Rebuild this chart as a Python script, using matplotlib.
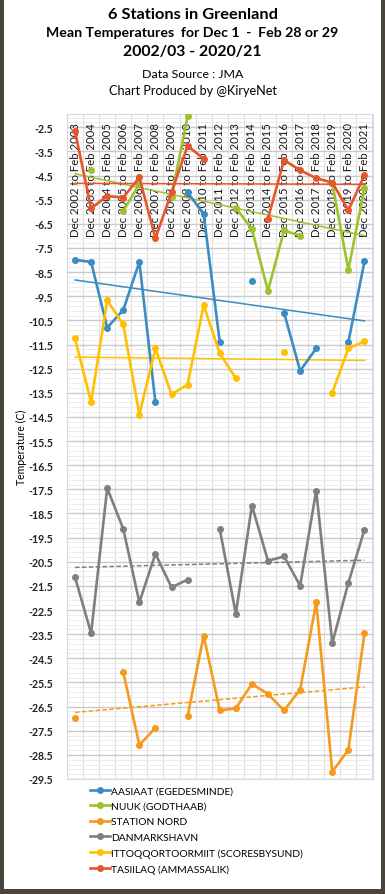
import numpy as np
import matplotlib.pyplot as plt
from matplotlib.patches import Rectangle
from matplotlib.ticker import MultipleLocator

plt.rcParams['font.family'] = ['Lato', 'DejaVu Sans']

nan = np.nan

# Winter labels, Dec 2002/Feb 2003 ... Dec 2020/Feb 2021
seasons = ["Dec %d to Feb %d" % (y, y + 1) for y in range(2002, 2021)]

aasiaat = [-7.99, -8.08, -10.80, -10.07, -8.08, -13.90, nan, -5.20, -6.10, -11.39,
           nan, -8.86, nan, -10.18, -12.59, -11.66, nan, -11.39, -8.06]
nuuk = [nan, -4.27, nan, -5.97, -4.85, nan, -5.38, -2.05, nan, nan,
        -5.83, -6.72, -9.28, -6.77, -7.00, nan, -4.82, -8.41, -5.00]
station_nord = [-26.99, nan, nan, -25.07, -28.09, -27.38, nan, -26.90, -23.56, -26.66,
                -26.57, -25.56, -25.98, -26.66, -25.80, -22.18, -29.20, -28.29, -23.46]
danmarkshavn = [-21.14, -23.46, -17.45, -19.14, -22.18, -20.17, -21.56, -21.24, nan, -19.14,
                -22.66, -18.17, -20.46, -20.28, -21.49, -17.55, -23.87, -21.37, -19.17]
ittoqqortoormiit = [-11.25, -13.90, -9.67, -10.67, -14.40, -11.66, -13.57, -13.16, -9.87, -11.87,
                    -12.90, nan, nan, -11.79, nan, nan, -13.49, -11.66, -11.37]
tasiilaq = [-2.67, -5.86, -5.35, -5.41, -4.58, -7.10, -5.20, -3.27, -3.80, nan,
            nan, nan, -6.28, -3.86, -4.28, -4.61, -4.79, -5.94, -4.49]

series = [
    ("AASIAAT (EGEDESMINDE)", aasiaat, "#3b8cc2", "-"),
    ("NUUK (GODTHAAB)", nuuk, "#9dc22e", "-"),
    ("STATION NORD", station_nord, "#f59a1c", "--"),
    ("DANMARKSHAVN", danmarkshavn, "#7f7f7f", "--"),
    ("ITTOQQORTOORMIIT (SCORESBYSUND)", ittoqqortoormiit, "#ffc000", "-"),
    ("TASIILAQ (AMMASSALIK)", tasiilaq, "#e8552c", "-"),
]

W, H = 385, 895
fig = plt.figure(figsize=(W / 100, H / 100), dpi=100)
fig.patch.set_facecolor("#4a443c")
fig.patches.append(Rectangle((4 / W, 5 / H), 377 / W, 1 - 5 / H, transform=fig.transFigure,
                             facecolor="white", edgecolor="none", zorder=-1))

# titles
fig.text(0.5, 1 - 15 / H, "6 Stations in Greenland", ha="center", va="center",
         fontsize=11.8, fontweight="bold")
fig.text(0.5, 1 - 33 / H, "Mean Temperatures  for Dec 1  -  Feb 28 or 29", ha="center",
         va="center", fontsize=10.2, fontweight="bold")
fig.text(0.5, 1 - 52 / H, "2002/03 - 2020/21", ha="center", va="center",
         fontsize=11.3, fontweight="bold")
fig.text(0.5, 1 - 74 / H, "Data Source : JMA", ha="center", va="center", fontsize=8.9)
fig.text(0.5, 1 - 91 / H, "Chart Produced by @KiryeNet", ha="center", va="center", fontsize=9.1)

ax = fig.add_axes([67 / W, 1 - 780 / H, 305.5 / W, 665 / H])
x = np.arange(len(seasons))

ax.set_xlim(-0.5, len(seasons) - 0.5)
ax.set_ylim(-29.5, -1.95)
ax.yaxis.set_minor_locator(MultipleLocator(0.2, offset=0.1))
ax.set_yticks(np.arange(-29.5, -2.0, 1.0))
ax.set_yticklabels(["%.1f" % v for v in np.arange(-29.5, -2.0, 1.0)])
ax.grid(which="major", axis="y", color="#c9c9c9", lw=1.0, zorder=0)
ax.grid(which="minor", axis="y", color="#ececec", lw=0.7, zorder=0)
ax.set_xticks(np.arange(-0.5, len(seasons), 1.0))
ax.set_xticklabels([])
ax.grid(which="major", axis="x", color="#dedede", lw=0.8, zorder=0)
ax.tick_params(axis="both", which="both", length=0)
ax.tick_params(axis="y", labelsize=7.6, pad=10, labelcolor="#222222")
for lab in ax.get_yticklabels():
    lab.set_fontweight("bold")
for s in ax.spines.values():
    s.set_color("#d9d9d9")
    s.set_linewidth(0.8)
ax.set_ylabel("Temperature (C)", fontsize=7.6, labelpad=1)

for i, lab in enumerate(seasons):
    ax.text(i, -2.28, lab, rotation=90, ha="center", va="top", fontsize=8.2,
            color="#1a1a1a", zorder=2)

handles = []
for name, vals, col, tstyle in series:
    v = np.array(vals, dtype=float)
    h, = ax.plot(x, v, color=col, lw=1.9, marker="o", ms=4, zorder=4, label=name)
    handles.append(h)
    ok = ~np.isnan(v)
    k, b = np.polyfit(x[ok], v[ok], 1)
    ax.plot([0, x[-1]], [b, k * x[-1] + b], color=col, lw=1.1, ls=tstyle,
            dashes=(3, 1.5) if tstyle == "--" else (None, None), zorder=3)

fig.legend(handles=handles, loc="upper left", bbox_to_anchor=(90 / W, 1 - 787 / H),
           frameon=False, fontsize=7.4, handlelength=1.9, handletextpad=0.15,
           labelspacing=0.62, borderpad=0, borderaxespad=0)

fig.savefig("out.png", dpi=100, facecolor=fig.get_facecolor())
